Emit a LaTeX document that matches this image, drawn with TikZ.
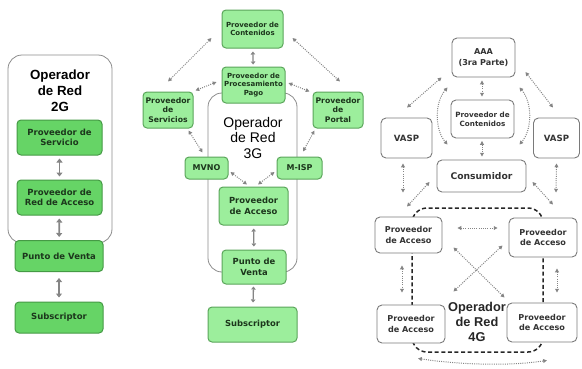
\documentclass[tikz,border=0pt]{standalone}
\usepackage{fontspec}
\setmainfont{DejaVu Sans}
\newfontfamily\opfont{Liberation Sans}
\usetikzlibrary{arrows.meta,calc}
\definecolor{gfillA}{HTML}{66D466}
\definecolor{gdrawA}{HTML}{459A45}
\definecolor{gfillB}{HTML}{9CEE9C}
\definecolor{gdrawB}{HTML}{5AA55A}
\definecolor{gtext}{HTML}{1C361C}
\definecolor{arrgray}{HTML}{858585}
\definecolor{framegray}{HTML}{8C8C8C}
\definecolor{wdraw}{HTML}{7A7A7A}
\definecolor{wtext}{HTML}{333333}
\begin{document}
\begin{tikzpicture}[x=1pt,y=-1pt,
  boxA/.style={draw=gdrawA,fill=gfillA,line width=1pt,rounded corners=4pt,align=center,inner sep=1pt,text=gtext,font=\fontsize{8.5}{10.5}\selectfont\bfseries},
  boxB/.style={draw=gdrawB,fill=gfillB,line width=1pt,rounded corners=4pt,align=center,inner sep=1pt,text=gtext,font=\fontsize{7}{8.6}\selectfont\bfseries},
  boxW/.style={draw=wdraw,fill=white,line width=0.9pt,rounded corners=5pt,align=center,inner sep=1pt,text=wtext,font=\fontsize{8.1}{10.5}\selectfont\bfseries},
  sz/.style 2 args={minimum width=#1pt,minimum height=#2pt},
  frame/.style={draw=framegray,line width=0.8pt,rounded corners=14pt},
  solidarr/.style={draw=arrgray,line width=1.8pt,{Triangle[width=6pt,length=4pt]}-{Triangle[width=6pt,length=4pt]}},
  dotarr/.style={draw=arrgray,line width=1pt,dash pattern=on 1pt off 1.2pt,{Triangle[width=3.8pt,length=3.8pt]}-{Triangle[width=3.8pt,length=3.8pt]}},
  optext/.style={align=center,text=black,font=\opfont\fontsize{13.3}{16}\selectfont\bfseries}
]
\useasboundingbox (0,0) rectangle (582,368);

% ---------------- 2G ----------------
\draw[frame] (8,55) rectangle (112,243);
\node[optext] (op2) at (60,91) {Operador\\de Red\\2G};
\node[boxA,sz={85}{35}] (ps2) at (59.5,137.5) {Proveedor de\\Servicio};
\node[boxA,sz={85}{35}] (pra2) at (59.5,197.5) {Proveedor de\\Red de Acceso};
\node[boxA,sz={88}{31}] (pv2) at (59,256) {Punto de Venta};
\node[boxA,sz={88}{31}] (sub2) at (59,317.5) {Subscriptor};
\draw[solidarr,shorten <=3pt,shorten >=3pt] (ps2) -- (pra2);
\draw[solidarr,shorten <=3pt,shorten >=3pt] (pra2) -- (pv2);
\draw[solidarr,shorten <=6pt,shorten >=4pt] (pv2) -- (sub2);

% ---------------- 3G ----------------
\draw[frame] (208,93) rectangle (297,272);
\node[optext,font=\opfont\fontsize{14}{15.5}\selectfont] (op3) at (253,137.5) {Operador\\de Red\\3G};
\node[boxB,sz={61}{38}] (cont3) at (252.5,29) {Proveedor de\\Contenidos};
\node[boxB,sz={63}{36}] (proc3) at (253.5,85) {Proveedor de\\Procesamiento\\Pago};
\node[boxB,sz={50}{36},font=\fontsize{7.7}{9.4}\selectfont\bfseries] (serv3) at (168,110) {Proveedor\\de\\Servicios};
\node[boxB,sz={50}{36},font=\fontsize{7.7}{9.4}\selectfont\bfseries] (port3) at (338,110) {Proveedor\\de\\Portal};
\node[boxB,sz={43}{22},font=\fontsize{8}{9}\selectfont\bfseries] (mvno) at (206.5,168) {MVNO};
\node[boxB,sz={45}{22},font=\fontsize{8}{9}\selectfont\bfseries] (misp) at (299.5,168) {M-ISP};
\node[boxB,sz={69}{38},font=\fontsize{8.4}{10.5}\selectfont\bfseries] (acc3) at (253.5,206) {Proveedor\\de Acceso};
\node[boxB,sz={64}{34},font=\fontsize{8.4}{10.5}\selectfont\bfseries] (pv3) at (254,267) {Punto de\\Venta};
\node[boxB,sz={89}{35},font=\fontsize{8.4}{10.5}\selectfont\bfseries] (sub3) at (252.5,324.5) {Subscriptor};
\draw[solidarr,line width=1.3pt,{Triangle[width=4.5pt,length=3pt]}-{Triangle[width=4.5pt,length=3pt]},shorten <=3pt,shorten >=2pt] (cont3) -- (proc3);
\draw[solidarr,line width=1.3pt,{Triangle[width=4.5pt,length=3pt]}-{Triangle[width=4.5pt,length=3pt]},shorten <=3pt,shorten >=3pt] (acc3) -- (pv3);
\draw[solidarr,line width=1.3pt,{Triangle[width=4.5pt,length=3pt]}-{Triangle[width=4.5pt,length=3pt]},shorten <=2pt,shorten >=4pt] (pv3) -- (sub3);
\draw[dotarr] ($(cont3.west)+(-10,9)$) -- ($(serv3.north)+(0,-10)$);
\draw[dotarr] ($(cont3.east)+(9,9)$) -- ($(port3.north)+(2,-10)$);
\draw[dotarr] ($(proc3.west)+(-5,-3)$) -- ($(serv3.north east)+(2,-1)$);
\draw[dotarr] ($(proc3.east)+(3,-2)$) -- ($(port3.north west)+(-3,0)$);
\draw[dotarr] ($(serv3.south east)+(-5,2)$) -- ($(mvno.north)+(-4,-4)$);
\draw[dotarr] ($(port3.south west)+(2,2)$) -- ($(misp.north)+(3.5,-5)$);
\draw[dotarr] ($(mvno.east)+(2,4)$) -- ($(acc3.north)+(-6.5,-2)$);
\draw[dotarr] ($(misp.west)+(-2,4)$) -- ($(acc3.north)+(4.5,-2)$);

% ---------------- 4G ----------------
\draw[draw=black!85,line width=1.5pt,dash pattern=on 4pt off 2.6pt,rounded corners=15pt] (412,208) rectangle (543,352);
\node[optext,font=\opfont\fontsize{12.8}{15}\selectfont\bfseries,text=black!85] (op4) at (477,322) {Operador\\de Red\\4G};
\node[boxW,sz={63}{39}] (aaa) at (483.5,57.5) {AAA\\(3ra Parte)};
\node[boxW,sz={63}{38},font=\fontsize{7.2}{9}\selectfont\bfseries] (cont4) at (482.5,119) {Proveedor de\\Contenidos};
\node[boxW,sz={51}{40},font=\fontsize{8.6}{10}\selectfont\bfseries] (vaspL) at (406.5,138) {VASP};
\node[boxW,sz={46}{40},font=\fontsize{8.6}{10}\selectfont\bfseries] (vaspR) at (556.5,138) {VASP};
\node[boxW,sz={89}{32},font=\fontsize{9.2}{10}\selectfont\bfseries] (cons) at (481.5,176) {Consumidor};
\node[boxW,sz={67}{36}] (paTL) at (408.5,235) {Proveedor\\de Acceso};
\node[boxW,sz={68}{39}] (paTR) at (543,237.5) {Proveedor\\de Acceso};
\node[boxW,sz={68}{38}] (paBL) at (411,324) {Proveedor\\de Acceso};
\node[boxW,sz={70}{39}] (paBR) at (542,322.5) {Proveedor\\de Acceso};
\draw[dotarr] ($(aaa.south west)+(-10,0)$) -- ($(vaspL.north)+(0.5,-10)$);
\draw[dotarr] ($(aaa.east)+(10,14.5)$) -- ($(vaspR.north)+(-3.5,-10)$);
\draw[dotarr] ($(aaa.south)+(-1.5,3)$) -- ($(cont4.north)+(-0.5,-3)$);
\draw[dotarr] ($(cont4.south)+(-0.5,2.5)$) -- ($(cons.north)+(0.5,-3)$);
\draw[dotarr] ($(aaa.south west)+(-4,10)$) .. controls +(-13,15) and +(-13,-15) .. ($(cons.north west)+(11,-15)$);
\draw[dotarr] ($(aaa.south east)+(4,10)$) .. controls +(13,15) and +(13,-15) .. ($(cons.north east)+(-7,-15)$);
\draw[dotarr] ($(vaspL.south)+(-3.5,5)$) -- ($(paTL.north)+(-5.5,-24)$);
\draw[dotarr] ($(vaspR.south)+(0,5)$) -- ($(paTR.north)+(13,-25)$);
\draw[dotarr] ($(cons.west)+(-7,6)$) -- ($(paTL.north)+(-1.5,-10)$);
\draw[dotarr] ($(cons.east)+(6,6)$) -- ($(paTR.north)+(10,-13)$);
\draw[dotarr] ($(paTL.east)+(15,-7)$) -- ($(paTR.west)+(-11,-9.5)$);
\draw[dotarr] ($(paTL.south)+(-6.5,12)$) -- ($(paBL.north)+(-9,-12)$);
\draw[dotarr] ($(paTR.south)+(14,11)$) -- ($(paBR.north)+(15,-10)$);
\draw[dotarr] ($(paTL.south east)+(11,-6)$) -- ($(paBR.north west)+(-2,-5)$);
\draw[dotarr] ($(paTR.south west)+(-6,-12)$) -- ($(paBL.north east)+(8,-13)$);
\draw[dotarr] ($(paBL.south)+(7,15)$) .. controls +(40,6) and +(-40,6) .. ($(paBR.south)+(5,18)$);
\end{tikzpicture}
\end{document}
